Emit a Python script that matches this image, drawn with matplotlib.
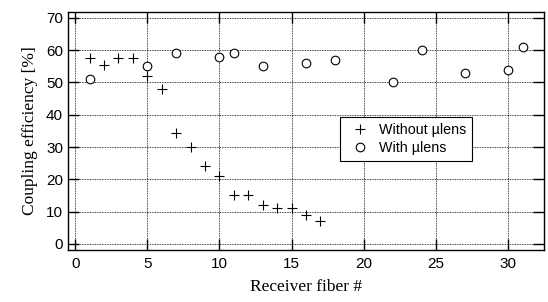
import matplotlib
matplotlib.use("Agg")
import matplotlib.pyplot as plt

x_without = [1, 2, 3, 4, 5, 6, 7, 8, 9, 10, 11, 12, 13, 14, 15, 16, 17]
y_without = [57.5, 55.5, 57.5, 57.5, 52, 48, 34.5, 30, 24, 21, 15, 15, 12, 11, 11, 9, 7]
x_with = [1, 5, 7, 10, 11, 13, 16, 18, 22, 24, 27, 30, 31]
y_with = [51, 55, 59, 58, 59, 55, 56, 57, 50, 60, 53, 54, 61]
xticks = [0, 5, 10, 15, 20, 25, 30]
yticks = [0, 10, 20, 30, 40, 50, 60, 70]

fig = plt.figure(figsize=(5.48, 3.02), dpi=100)
ax = fig.add_axes([0.124, 0.172, 0.869, 0.788])
ax.plot(x_without, y_without, linestyle='none', marker='+', color='black',
        markersize=7, markeredgewidth=0.8, label='Without \u00b5lens')
ax.plot(x_with, y_with, linestyle='none', marker='o', markerfacecolor='white',
        markeredgecolor='black', markersize=6.2, markeredgewidth=0.8, label='With \u00b5lens')
ax.set_xlim(-0.5, 32.5)
ax.set_ylim(-1.9, 71.8)
ax.set_xticks(xticks)
ax.set_yticks(yticks)
ax.grid(True, color='black', linestyle=(0, (1, 1)), linewidth=0.6)
ax.tick_params(direction='in', top=True, right=True, length=8, width=1,
               labelsize=11)
ax.tick_params(axis='x', pad=5)
ax.tick_params(axis='y', pad=3.5)
for lab in ax.get_xticklabels() + ax.get_yticklabels():
    lab.set_fontfamily('Liberation Sans')
for s in ax.spines.values():
    s.set_linewidth(1)
ax.set_xlabel('Receiver fiber #', family='Liberation Serif', fontsize=12.5, labelpad=6)
ax.set_ylabel('Coupling efficiency [%]', family='Liberation Serif', fontsize=12.5, labelpad=6)
leg = ax.legend(loc='upper left', bbox_to_anchor=(0.571, 0.559), borderaxespad=0,
                frameon=True, fancybox=False,
                edgecolor='black', framealpha=1, prop={'family': 'Liberation Sans', 'size': 10.3},
                handletextpad=0.35, borderpad=0.4, labelspacing=0.3, handlelength=2.0)
leg.get_frame().set_linewidth(0.8)
fig.savefig('out.png', dpi=100)
